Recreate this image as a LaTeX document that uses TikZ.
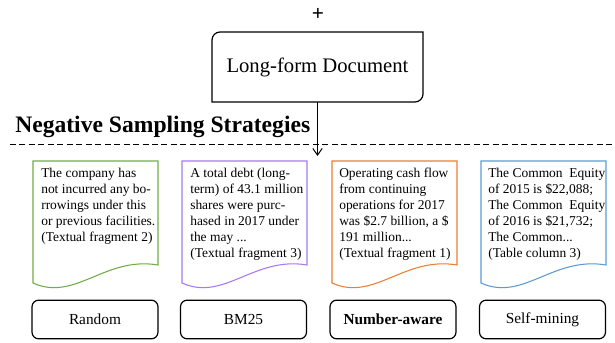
\documentclass[tikz,border=0pt]{standalone}
\usepackage{fontspec}
\setmainfont{Liberation Serif}
\usetikzlibrary{arrows.meta}
\definecolor{randgreen}{HTML}{70AD47}
\definecolor{bmpurple}{RGB}{166,120,246}
\definecolor{numorange}{HTML}{ED7D31}
\definecolor{selfblue}{HTML}{5B9BD5}

\begin{document}
\begin{tikzpicture}[x=0.75pt,y=0.75pt,yscale=-1,xscale=1,
  strat/.style={draw,rounded corners=5pt,line width=0.9pt,minimum width=94.5pt,minimum height=29pt,inner sep=0pt,font=\fontsize{11.5}{13}\selectfont},
  frag/.style={anchor=north west,inner sep=0pt,align=left,text=black,font=\fontsize{10.1}{12}\selectfont}]
\path[use as bounding box] (0,0) rectangle (615,343);

% plus sign and document
\node[inner sep=0pt] (plus) at (318,14) {\bfseries\fontsize{16}{18}\selectfont +};
\node[minimum width=158.25pt,minimum height=52.5pt,inner sep=0pt,font=\fontsize{15.5}{18}\selectfont] (lfd) at (317.5,67) {Long-form Document};
\draw[line width=0.9pt] (220,32) -- (423,32) -- (423,94) .. controls (423,98.4) and (419.4,102) .. (415,102) -- (212,102) -- (212,40) .. controls (212,35.6) and (215.6,32) .. (220,32) -- cycle;

% arrow down
\coordinate (tip) at (317.5,156);
\draw[line width=0.75pt,-{Straight Barb[length=5pt,width=7pt]}] (lfd.south) -- (tip);

% title and separator
\node[anchor=base west,inner sep=0pt,font=\bfseries\fontsize{17.7}{20}\selectfont] (title) at (15,132) {Negative Sampling Strategies};
\draw[line width=0.75pt,dash pattern={on 4.5pt off 2.6pt}] (10,144) -- (615,144);

% fragment shapes
\foreach \l/\c in {33/randgreen,182/bmpurple,332/numorange,481/selfblue}
  \draw[\c,line width=0.8pt] (\l,161) -- (\l+125,161) -- (\l+125,265) .. controls (\l+72,256) and (\l+42,302) .. (\l,283) -- cycle;

\node[frag] (fragrand) at (41,168) {The company has\\not incurred any bo-\\rrowings under this\\or previous facilities.\\(Textual fragment 2)};
\node[frag] (fragbm) at (190,168) {A total debt (long-\\term) of 43.1 million\\shares were purc-\\hased in 2017 under\\the may ...\\(Textual fragment 3)};
\node[frag] (fragnum) at (339,168) {Operating cash flow\\from continuing\\operations for 2017\\was \$2.7 billion, a \$\\191 million...\\(Textual fragment 1)};
\node[frag] (fragself) at (488,168) {The Common~ Equity\\of 2015 is \$22,088;\\The Common~ Equity\\of 2016 is \$21,732;\\The Common...\\(Table column 3)};

% strategies
\node[strat] (random) at (95,319.5) {Random};
\node[strat] (bm25) at (243.5,319.5) {BM25};
\node[strat,font=\bfseries\fontsize{11.5}{13}\selectfont] (numaware) at (393,319.5) {Number-aware};
\node[strat] (selfmining) at (542.5,319.5) {Self-mining};

\end{tikzpicture}
\end{document}
